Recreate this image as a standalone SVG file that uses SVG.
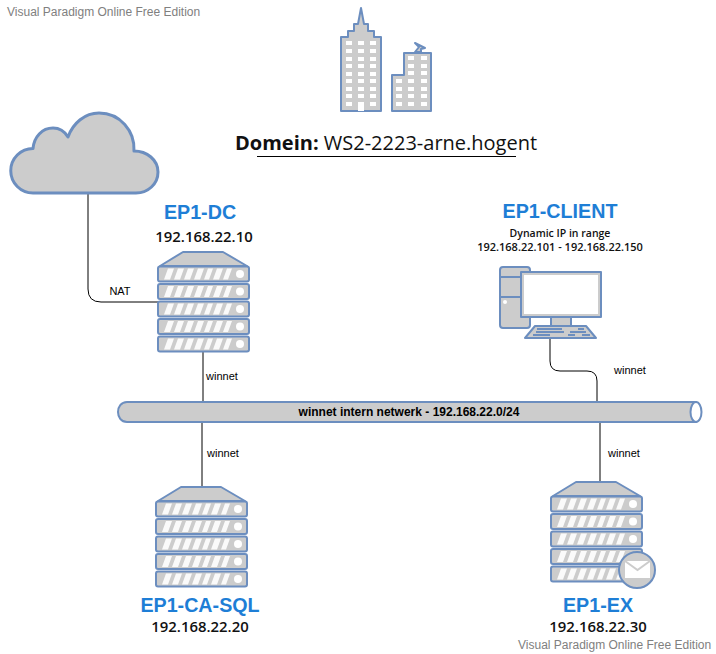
<svg xmlns="http://www.w3.org/2000/svg" xmlns:xlink="http://www.w3.org/1999/xlink" width="716" height="654" viewBox="0 0 716 654">
<style>
.s{fill:#cccccc;stroke:#6c8ebf;stroke-width:2;stroke-linejoin:round}
.w{fill:#ffffff;stroke:none}
.l{fill:none;stroke:#000000;stroke-width:1}
.t{font-family:"Liberation Sans",Arial,sans-serif;fill:#000000;text-anchor:middle}
.o{font-family:"Open Sans",sans-serif;font-weight:600;fill:#111111;text-anchor:middle}
.lab{font-size:11px}
.h{font-size:19.700px;font-weight:bold;fill:#1e7ed6}
.ip{font-size:14.900px}
.wm{font-family:"Liberation Sans",Arial,sans-serif;font-size:12px;fill:#808080}
.d{font-family:"Open Sans",sans-serif;font-size:20px;fill:#111111}
</style>
<defs>
<g id="unit">
<rect class="s" x="0" y="0" width="91" height="15" rx="2"/>
<path class="w" d="M6 13L10 2H16L12 13ZM16 13L20 2H26L22 13ZM26 13L30 2H36L32 13ZM36 13L40 2H46L42 13ZM46 13L50 2H55L51 13ZM55 13L59 2H65L61 13ZM65 13L69 2H74L70 13Z" opacity="0.9"/>
<circle class="w" cx="82" cy="7.500" r="4"/>
</g>
<g id="server">
<path class="s" d="M2 15L25 1H65L89 15Z"/>
<use xlink:href="#unit" x="0" y="15.500"/>
<use xlink:href="#unit" x="0" y="33"/>
<use xlink:href="#unit" x="0" y="50.500"/>
<use xlink:href="#unit" x="0" y="68"/>
<use xlink:href="#unit" x="0" y="85.500"/>
</g>
</defs>
<text class="wm" x="7" y="16">Visual Paradigm Online Free Edition</text>
<g id="connectors">
<path class="l" d="M88 193V289Q88 302 101 302H158"/>
<path class="l" d="M203 352V402"/>
<path class="l" d="M202 422V488"/>
<path class="l" d="M550 338V361Q550 371 560 371H587Q597 371 597 381V402"/>
<path class="l" d="M600 422V482"/>
</g>
<g id="building">
<path class="s" d="M341 111V37H348V31H354V24H358L361 8L364 24H368V31H374V37H381V111Z"/>
<path class="s" d="M392 111V75H404V53H431V111Z"/>
<path class="s" d="M415 52L419 47L415 43L425 48L421 49L421 52Z"/>
<path class="w" d="M346 41h6v4h-6zM358 41h6v4h-6zM370 41h6v4h-6zM346 49h6v4h-6zM358 49h6v4h-6zM370 49h6v4h-6zM346 57h6v4h-6zM358 57h6v4h-6zM370 57h6v4h-6zM346 64h6v4h-6zM358 64h6v4h-6zM370 64h6v4h-6zM346 72h6v4h-6zM358 72h6v4h-6zM370 72h6v4h-6zM346 79h6v4h-6zM358 79h6v4h-6zM370 79h6v4h-6zM346 87h6v4h-6zM358 87h6v4h-6zM370 87h6v4h-6zM346 94h6v4h-6zM358 94h6v4h-6zM370 94h6v4h-6zM346 102h6v4h-6zM370 102h6v4h-6zM358 102h6v9h-6z"/>
<path class="w" d="M408 56h6v4h-6zM421 56h6v4h-6zM408 64h6v4h-6zM421 64h6v4h-6zM408 71h6v4h-6zM421 71h6v4h-6zM396 79h6v4h-6zM408 79h6v4h-6zM421 79h6v4h-6zM396 87h6v4h-6zM408 87h6v4h-6zM421 87h6v4h-6zM396 94h6v4h-6zM408 94h6v4h-6zM421 94h6v4h-6zM396 102h6v4h-6zM408 102h6v4h-6zM421 102h6v4h-6z"/>
</g>
<g id="domain">
<text class="d" x="235" y="150"><tspan font-weight="bold">Domein:</tspan> WS2-2223-arne.hogent</text>
<path class="l" d="M257 156.500H516"/>
</g>
<g id="cloud">
<path d="M33 193A22 22 0 0 1 33 148.500C34 137 42 128 53 128C60 128 65 132 68 137C73 123 85 113 99 113C120 113 135 131 134 151C147 151 158 160 158 172C158 184 148 193 136 193Z" fill="#cccccc" stroke="#6c8ebf" stroke-width="3" stroke-linejoin="round"/>
</g>
<g id="ep1-dc">
<use xlink:href="#server" x="158" y="251"/>
<text class="t h" x="200" y="219">EP1-DC</text>
<text class="o ip" x="204" y="242">192.168.22.10</text>
</g>
<g id="ep1-client">
<rect class="s" x="500" y="267" width="30" height="61" rx="3"/>
<path class="s" d="M500 277H530M500 297H530" fill="none"/>
<circle class="w" cx="505" cy="302" r="2"/>
<rect class="s" x="551" y="317" width="20" height="9"/>
<path class="s" d="M535 326H586L596 338H525Z"/>
<path d="M537 329H562M578 329H584M536 332H564M570 332H586M533 335H550M568 335H575M582 335H590" fill="none" stroke="#6c8ebf" stroke-width="2"/>
<rect class="s" x="521" y="272" width="80" height="45"/>
<rect x="524" y="275" width="74" height="39" fill="#ffffff"/>
<text class="t h" x="560" y="218">EP1-CLIENT</text>
<text class="o" x="560" y="237" font-size="10.500px">Dynamic IP in range</text>
<text class="o" x="560" y="250.500" font-size="11px">192.168.22.101 - 192.168.22.150</text>
</g>
<g id="pipe">
<path class="s" d="M696 402H127C121 402 118 407 118 412C118 417 121 422 127 422H696Z"/>
<ellipse cx="696" cy="412" rx="5.500" ry="10" fill="#ffffff" stroke="#6c8ebf" stroke-width="2"/>
<text class="t" x="409" y="416" font-size="12px" font-weight="bold">winnet intern netwerk - 192.168.22.0/24</text>
</g>
<g id="ep1-ca-sql">
<use xlink:href="#server" x="156" y="486"/>
<text class="t h" x="200" y="612">EP1-CA-SQL</text>
<text class="o ip" x="200" y="632">192.168.22.20</text>
</g>
<g id="ep1-ex">
<use xlink:href="#server" x="551" y="481"/>
<circle class="s" cx="637" cy="570" r="18"/>
<path class="w" d="M625 561H650V578H625Z"/>
<path d="M625 561L637.500 570L650 561" fill="none" stroke="#cccccc" stroke-width="2"/>
<text class="t h" x="598" y="612">EP1-EX</text>
<text class="o ip" x="598" y="632">192.168.22.30</text>
</g>
<g id="labels">
<text class="t lab" x="120" y="295">NAT</text>
<text class="t lab" x="222" y="380">winnet</text>
<text class="t lab" x="223" y="457">winnet</text>
<text class="t lab" x="630" y="374">winnet</text>
<text class="t lab" x="624" y="457">winnet</text>
</g>
<text class="wm" x="518" y="649">Visual Paradigm Online Free Edition</text>
</svg>
